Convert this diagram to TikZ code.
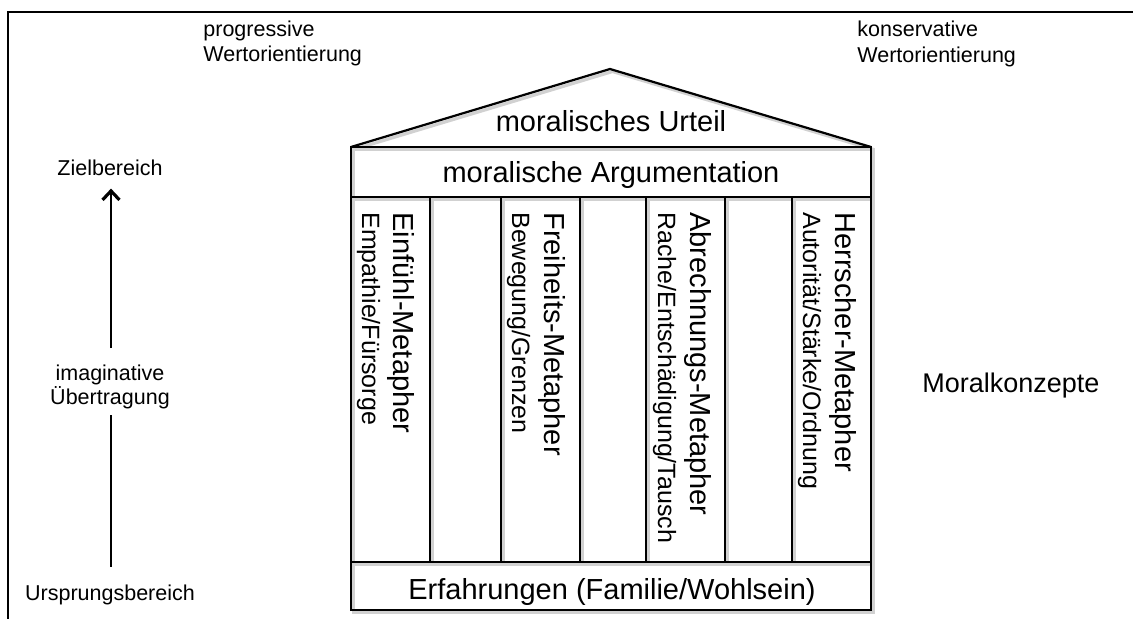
\documentclass[tikz,border=0pt]{standalone}
\usepackage{fontspec}
\setmainfont{Liberation Sans}
\usetikzlibrary{arrows.meta}
\begin{document}
\begin{tikzpicture}[x=0.5pt,y=-0.5pt,
  main/.style={inner sep=0pt, font=\fontsize{14.5}{17}\selectfont},
  subt/.style={inner sep=0pt, font=\fontsize{12.5}{15}\selectfont},
  lab/.style={inner sep=0pt, font=\fontsize{10.75}{12.5}\selectfont},
  coltitle/.style={main, rotate=-90, anchor=base west},
  colsub/.style={subt, rotate=-90, anchor=base west},
  house/.style={line width=1.3pt, line join=miter},
  houseshadow/.style={line width=1.6pt, draw=black!18},
  conn/.style={line width=1.1pt}]
\useasboundingbox (0,0) rectangle (1133,619);
\clip (0,0) rectangle (1133,619);
\fill[white] (0,0) rectangle (1133,619);
% outer frame (runs off the picture on the right and bottom)
\draw[line width=1pt] (8,12) rectangle (1150,640);
% soft shadow of the house
\begin{scope}[shift={(2.5,2.5)}]
  \draw[houseshadow] (351,147) -- (610,69) -- (871,147);
  \draw[houseshadow] (351,147) rectangle (871,610);
  \draw[houseshadow] (351,197) -- (871,197) (351,562) -- (871,562);
  \foreach \cx in {430,501,580,646,725,792} \draw[houseshadow] (\cx,197) -- (\cx,562);
\end{scope}
% house
\draw[house, line width=1.1pt] (351,147) -- (610,69) -- (871,147);
\draw[house] (351,147) rectangle (871,610);
\draw[house] (351,197) -- (871,197) (351,562) -- (871,562);
\foreach \cx in {430,501,580,646,725,792} \draw[house] (\cx,197) -- (\cx,562);
% house texts
\node[main, anchor=base] (urteil) at (611,132) {moralisches Urteil};
\node[main, anchor=base] (argu) at (611,183) {moralische Argumentation};
\node[main, anchor=base] (erfahr) at (612,599) {Erfahrungen (Familie/Wohlsein)};
\node[coltitle] (einf) at (393,212) {Einfühl-Metapher};
\node[colsub] (einfs) at (362,212) {Empathie/Fürsorge};
\node[coltitle] (frei) at (544,212) {Freiheits-Metapher};
\node[colsub] (freis) at (512,212) {Bewegung/Grenzen};
\node[coltitle] (abr) at (690,212) {Abrechnungs-Metapher};
\node[colsub] (abrs) at (658,212) {Rache/Entschädigung/Tausch};
\node[coltitle] (herr) at (835,212) {Herrscher-Metapher};
\node[colsub] (herrs) at (803,212) {Autorität/Stärke/Ordnung};
% side labels
\node[lab, anchor=base west] (prog1) at (203,37) {progressive};
\node[lab, anchor=base west] (prog2) at (203,62) {Wertorientierung};
\node[lab, anchor=base west] (kons1) at (857,37) {konservative};
\node[lab, anchor=base west] (kons2) at (857,63) {Wertorientierung};
\node[inner sep=0pt, font=\fontsize{13.5}{16}\selectfont, anchor=base west] (moral) at (922,393) {Moralkonzepte};
\node[lab, anchor=base] (ziel) at (110,176) {Zielbereich};
\node[lab, anchor=base] (imag1) at (110,381) {imaginative};
\node[lab, anchor=base] (imag2) at (110,405) {Übertragung};
\node[lab, anchor=base] (urspr) at (110,600) {Ursprungsbereich};
% arrow
\draw[conn, -{Straight Barb[length=4.5pt,width=8.5pt,line width=1.6pt]}, shorten <=8.5pt, shorten >=6pt]
  ([xshift=0.5pt]imag1.north) -- ([xshift=0.5pt]ziel.south);
\draw[conn, shorten <=8.75pt, shorten >=2.75pt]
  ([xshift=0.5pt]urspr.north) -- ([xshift=0.5pt]imag2.south);
\end{tikzpicture}
\end{document}
